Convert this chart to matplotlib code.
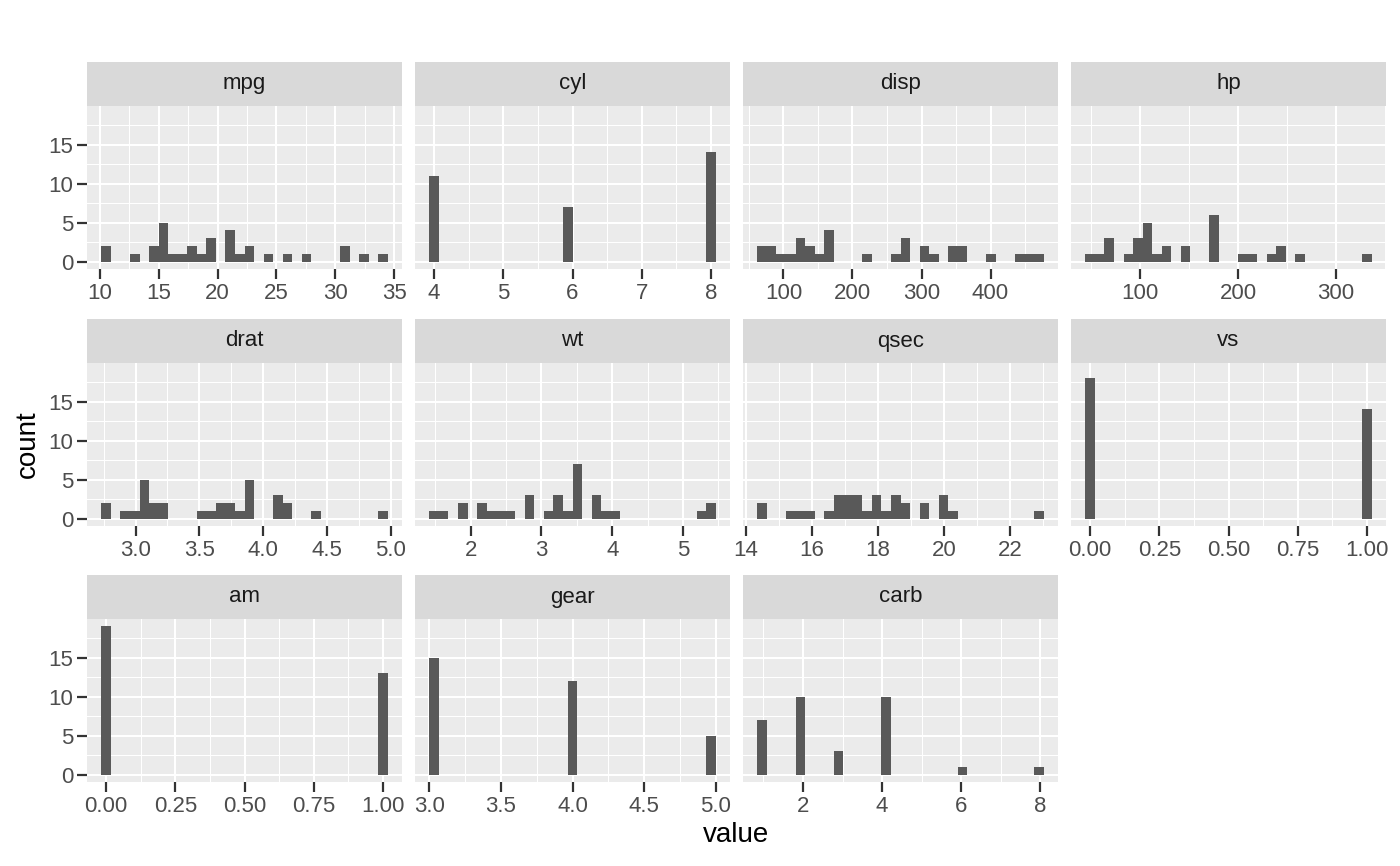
import numpy as np
import matplotlib
matplotlib.use("Agg")
import matplotlib.pyplot as plt
from matplotlib.ticker import FixedLocator

plt.rcParams['font.family'] = ['Liberation Sans', 'DejaVu Sans']

# mtcars columns
mpg = [21.0, 21.0, 22.8, 21.4, 18.7, 18.1, 14.3, 24.4, 22.8, 19.2, 17.8, 16.4, 17.3, 15.2, 10.4, 10.4,
       14.7, 32.4, 30.4, 33.9, 21.5, 15.5, 15.2, 13.3, 19.2, 27.3, 26.0, 30.4, 15.8, 19.7, 15.0, 21.4]
cyl = [6, 6, 4, 6, 8, 6, 8, 4, 4, 6, 6, 8, 8, 8, 8, 8, 8, 4, 4, 4, 4, 8, 8, 8, 8, 4, 4, 4, 8, 6, 8, 4]
disp = [160, 160, 108, 258, 360, 225, 360, 146.7, 140.8, 167.6, 167.6, 275.8, 275.8, 275.8, 472, 460,
        440, 78.7, 75.7, 71.1, 120.1, 318, 304, 350, 400, 79, 120.3, 95.1, 351, 145, 301, 121]
hp = [110, 110, 93, 110, 175, 105, 245, 62, 95, 123, 123, 180, 180, 180, 205, 215,
      230, 66, 52, 65, 97, 150, 150, 245, 175, 66, 91, 113, 264, 175, 335, 109]
drat = [3.90, 3.90, 3.85, 3.08, 3.15, 2.76, 3.21, 3.69, 3.92, 3.92, 3.92, 3.07, 3.07, 3.07, 2.93, 3.00,
        3.23, 4.08, 4.93, 4.22, 3.70, 2.76, 3.15, 3.73, 3.08, 4.08, 4.43, 3.77, 4.22, 3.62, 3.54, 4.11]
wt = [2.620, 2.875, 2.320, 3.215, 3.440, 3.460, 3.570, 3.190, 3.150, 3.440, 3.440, 4.070, 3.730, 3.780,
      5.250, 5.424, 5.345, 2.200, 1.615, 1.835, 2.465, 3.520, 3.435, 3.840, 3.845, 1.935, 2.140, 1.513,
      3.170, 2.770, 3.570, 2.780]
qsec = [16.46, 17.02, 18.61, 19.44, 17.02, 20.22, 15.84, 20.00, 22.90, 18.30, 18.90, 17.40, 17.60, 18.00,
        17.98, 17.82, 17.42, 19.47, 18.52, 19.90, 20.01, 16.87, 17.30, 15.41, 17.05, 18.90, 16.70, 16.90,
        14.50, 15.50, 14.60, 18.60]
vs = [0, 0, 1, 1, 0, 1, 0, 1, 1, 1, 1, 0, 0, 0, 0, 0, 0, 1, 1, 1, 1, 0, 0, 0, 0, 1, 0, 1, 0, 0, 0, 1]
am = [1, 1, 1, 0, 0, 0, 0, 0, 0, 0, 0, 0, 0, 0, 0, 0, 0, 1, 1, 1, 0, 0, 0, 0, 0, 1, 1, 1, 1, 1, 1, 1]
gear = [4, 4, 4, 3, 3, 3, 3, 4, 4, 4, 4, 3, 3, 3, 3, 3, 3, 4, 4, 4, 3, 3, 3, 3, 3, 4, 5, 5, 5, 5, 5, 4]
carb = [4, 4, 1, 1, 2, 1, 4, 2, 2, 4, 4, 3, 3, 3, 4, 4, 4, 1, 2, 1, 1, 2, 2, 4, 2, 1, 2, 2, 4, 6, 8, 2]

names = ['mpg', 'cyl', 'disp', 'hp', 'drat', 'wt', 'qsec', 'vs', 'am', 'gear', 'carb']
columns = [mpg, cyl, disp, hp, drat, wt, qsec, vs, am, gear, carb]

# x tick labels per facet
x_ticks = [
    ['10', '15', '20', '25', '30', '35'],
    ['4', '5', '6', '7', '8'],
    ['100', '200', '300', '400'],
    ['100', '200', '300'],
    ['3.0', '3.5', '4.0', '4.5', '5.0'],
    ['2', '3', '4', '5'],
    ['14', '16', '18', '20', '22'],
    ['0.00', '0.25', '0.50', '0.75', '1.00'],
    ['0.00', '0.25', '0.50', '0.75', '1.00'],
    ['3.0', '3.5', '4.0', '4.5', '5.0'],
    ['2', '4', '6', '8'],
]
y_ticks = [0, 5, 10, 15]

BINS = 30
W, H = 1400, 866
col_left = [87, 415, 743, 1071]
panel_w = 315
row_top = [106, 363, 619]
panel_h = 163
strip_h = 44

fig = plt.figure(figsize=(14, 8.66), dpi=100)


def bin_edges(lo, hi, bins=BINS):
    # ggplot2 style: width from range, boundary at width / 2
    w = (hi - lo) / (bins - 1)
    boundary = w / 2
    origin = boundary + np.floor((lo - boundary) / w) * w
    max_x = hi + (1 - 1e-8) * w
    n = int(np.floor((max_x - origin) / w + 1e-10))
    return origin + w * np.arange(n + 1), w


def minor_between(major, lo, hi):
    step = major[1] - major[0]
    ext = np.concatenate([[major[0] - step], major, [major[-1] + step]])
    mids = (ext[:-1] + ext[1:]) / 2
    return mids[(mids >= lo) & (mids <= hi)]


for i, (name, col, labels) in enumerate(zip(names, columns, x_ticks)):
    r, c = divmod(i, 4)
    x0 = col_left[c] / W
    y0 = 1 - (row_top[r] + panel_h) / H
    ax = fig.add_axes([x0, y0, panel_w / W, panel_h / H])
    ax.set_facecolor('#EBEBEB')
    for s in ax.spines.values():
        s.set_visible(False)

    vals = np.asarray(col, dtype=float)
    edges, w = bin_edges(vals.min(), vals.max())
    # right-closed bins, like ggplot2
    fuzz = 1e-7 * w
    fuzzy = edges + fuzz
    fuzzy[0] = edges[0] - fuzz
    ax.hist(vals, bins=fuzzy, color='#595959', linewidth=0, zorder=3)

    span = edges[-1] - edges[0]
    xlo, xhi = edges[0] - 0.05 * span, edges[-1] + 0.05 * span
    ax.set_xlim(xlo, xhi)
    ax.set_ylim(-0.95, 19.95)

    major = np.array([float(t) for t in labels])
    ax.set_xticks(major)
    ax.set_xticklabels(labels)
    ax.xaxis.set_minor_locator(FixedLocator(minor_between(major, xlo, xhi)))
    ax.set_yticks(y_ticks)
    ax.yaxis.set_minor_locator(FixedLocator([2.5, 7.5, 12.5, 17.5]))

    ax.grid(which='major', color='white', linewidth=1.5, zorder=1)
    ax.grid(which='minor', color='white', linewidth=0.75, zorder=1)
    ax.set_axisbelow(True)
    ax.tick_params(which='major', length=7, width=1.6, color='#333333',
                   labelsize=16, labelcolor='#4D4D4D', pad=3)
    ax.tick_params(which='minor', length=0)
    if c != 0:
        ax.tick_params(axis='y', which='both', left=False, labelleft=False)

    sax = fig.add_axes([x0, 1 - row_top[r] / H, panel_w / W, strip_h / H])
    sax.set_facecolor('#D9D9D9')
    sax.set_xticks([])
    sax.set_yticks([])
    for s in sax.spines.values():
        s.set_visible(False)
    sax.text(0.5, 0.5, name, ha='center', va='center', fontsize=16,
             color='#1A1A1A', transform=sax.transAxes)

fig.text(28 / W, 1 - 444 / H, 'count', rotation=90, ha='center', va='center',
         fontsize=20, color='black')
fig.text(736 / W, 1 - 835 / H, 'value', ha='center', va='center',
         fontsize=20, color='black')

fig.savefig('out.png', dpi=100, facecolor='white')
